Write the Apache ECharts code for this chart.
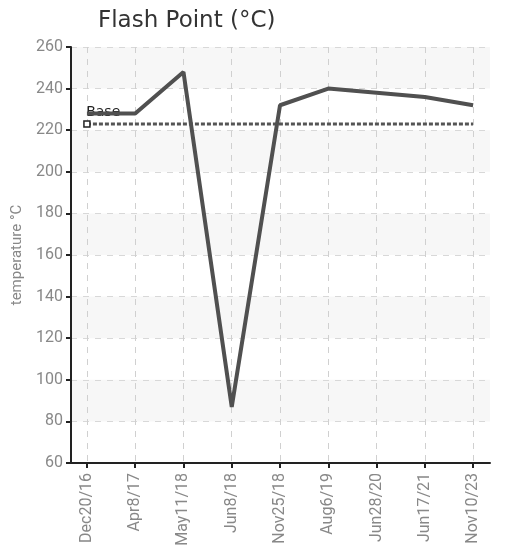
<!DOCTYPE html>
<html>
<head>
<meta charset="utf-8">
<script src="https://cdn.jsdelivr.net/npm/echarts@6/dist/echarts.min.js"></script>
<style>html,body{margin:0;padding:0;background:#fff}#c{width:516px;height:549px}</style>
</head>
<body>
<div id="c"></div>
<script>
const categories = ['Dec20/16','Apr8/17','May11/18','Jun8/18','Nov25/18','Aug6/19','Jun28/20','Jun17/21','Nov10/23'];
const flashPoint = [228, 228, 248, 87, 232, 240, 238, 236, 232];
const baseValue = 223;
const yTicks = [60, 80, 100, 120, 140, 160, 180, 200, 220, 240, 260];

const idx = categories.map((_, i) => i);
const mainData = flashPoint.map((v, i) => [i, v]);
const baseData = categories.map((_, i) => i === 0
  ? {value: [i, baseValue], symbol: 'rect', symbolSize: 6,
     label: {show: true, formatter: 'Base', position: [3, -15], color: '#222', fontSize: 14, fontFamily: 'DejaVu Sans'}}
  : [i, baseValue]);

const chart = echarts.init(document.getElementById('c'), null, {renderer: 'canvas'});
const labelFont = "Roboto, sans-serif";
chart.setOption({
  animation: false,
  title: {text: 'Flash Point (°C)', left: 93, top: 5,
    textStyle: {fontFamily: 'DejaVu Sans', fontWeight: 'normal', fontSize: 23, color: '#333'}},
  grid: {left: 71, right: 26, top: 47, bottom: 86, containLabel: false},
  xAxis: {
    type: 'value', min: -0.33, max: 8.35,
    axisLine: {show: true, onZero: false, lineStyle: {color: '#222', width: 2}},
    axisTick: {show: true, customValues: idx, length: 5, lineStyle: {color: '#222', width: 2}},
    axisLabel: {customValues: idx, rotate: 90, margin: 10, color: '#888', fontSize: 16, fontFamily: labelFont,
      formatter: v => categories[Math.round(v)]},
    splitLine: {show: true, lineStyle: {color: '#d0d0d0', type: [6, 6], width: 1}}
  },
  yAxis: {
    type: 'value', min: 60, max: 260, interval: 20,
    name: 'temperature °C', nameLocation: 'middle', nameGap: 46, nameRotate: 90,
    nameTextStyle: {color: '#888', fontSize: 15, fontFamily: labelFont},
    axisLine: {show: true, onZero: false, lineStyle: {color: '#222', width: 2}},
    axisTick: {show: true, length: 5, lineStyle: {color: '#222', width: 2}},
    axisLabel: {color: '#888', fontSize: 16, fontFamily: labelFont, margin: 8,
      formatter: v => yTicks.includes(v) ? String(v) : ''},
    splitLine: {show: true, lineStyle: {color: '#d8d8d8', type: [6, 6], width: 1}},
    splitArea: {show: true, areaStyle: {color: ['rgba(255,255,255,0)', '#f7f7f7']}}
  },
  series: [
    {name: 'Base', type: 'line', data: baseData, symbol: 'none', z: 2,
      itemStyle: {color: '#fff', borderColor: '#222', borderWidth: 1.5},
      lineStyle: {color: '#555', width: 3, type: [4, 2]}},
    {name: 'Flash Point', type: 'line', data: mainData, symbol: 'none', z: 3,
      lineStyle: {color: '#505050', width: 4}}
  ]
});
</script>
</body>
</html>
